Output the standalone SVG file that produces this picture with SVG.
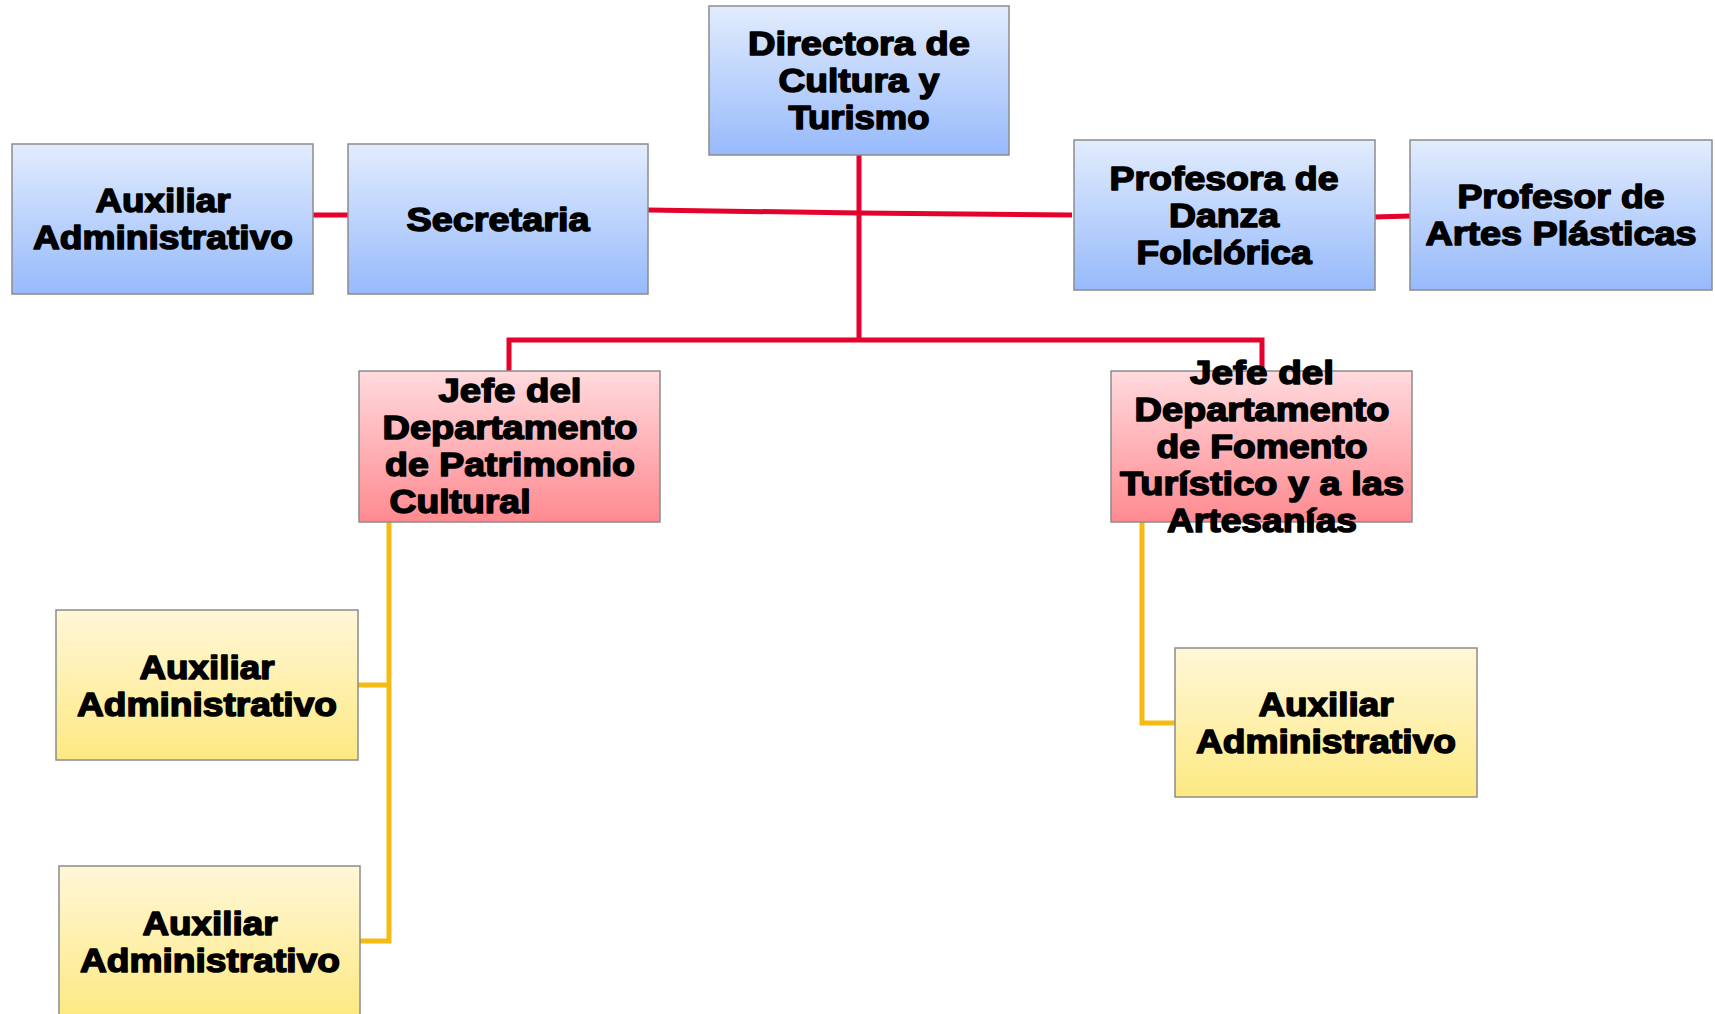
<svg xmlns="http://www.w3.org/2000/svg" width="1715" height="1014" viewBox="0 0 1715 1014">
<defs>
<linearGradient id="gBlue" x1="0" y1="0" x2="0" y2="1">
<stop offset="0" stop-color="#E2ECFD"/><stop offset="1" stop-color="#97BAFB"/>
</linearGradient>
<linearGradient id="gRed" x1="0" y1="0" x2="0" y2="1">
<stop offset="0" stop-color="#FFDADD"/><stop offset="1" stop-color="#FE8A90"/>
</linearGradient>
<linearGradient id="gYel" x1="0" y1="0" x2="0" y2="1">
<stop offset="0" stop-color="#FFF7D8"/><stop offset="1" stop-color="#FDE982"/>
</linearGradient>
<style>
.box{stroke:#8C8C8C;stroke-width:1.5}
.blue{fill:url(#gBlue)}
.red{fill:url(#gRed)}
.yel{fill:url(#gYel)}
text{font-family:"Liberation Sans",Arial,sans-serif;font-weight:bold;font-size:33px;fill:#000;stroke:#000;stroke-width:1.5;stroke-linejoin:round;text-anchor:middle}
.cr{fill:none;stroke:#E4022D;stroke-width:5}
.cy{fill:none;stroke:#F5BB12;stroke-width:5}
</style>
</defs>
<g id="connectors">
<line class="cr" x1="310" y1="215" x2="349" y2="215"/>
<polyline class="cr" points="648,210 859,213 1072,215"/>
<line class="cr" x1="1373" y1="217" x2="1411" y2="216"/>
<line class="cr" x1="859" y1="155" x2="859" y2="341"/>
<polyline class="cr" points="509,371 509,340 1262,340 1262,371"/>
<polyline class="cy" points="389,522 389,941 360,941"/>
<line class="cy" x1="358" y1="685" x2="389" y2="685"/>
<polyline class="cy" points="1142,522 1142,723 1175,723"/>
</g>
<g id="n-directora">
<rect class="box blue" x="709" y="6" width="300" height="149"/>
<text x="859" y="55" textLength="222" lengthAdjust="spacingAndGlyphs">Directora de</text>
<text x="859" y="92" textLength="161" lengthAdjust="spacingAndGlyphs">Cultura y</text>
<text x="859" y="129" textLength="141" lengthAdjust="spacingAndGlyphs">Turismo</text>
</g>
<g id="n-aux-top">
<rect class="box blue" x="12" y="144" width="301" height="150"/>
<text x="163" y="212" textLength="135" lengthAdjust="spacingAndGlyphs">Auxiliar</text>
<text x="163" y="249" textLength="260" lengthAdjust="spacingAndGlyphs">Administrativo</text>
</g>
<g id="n-secretaria">
<rect class="box blue" x="348" y="144" width="300" height="150"/>
<text x="498" y="231" textLength="183" lengthAdjust="spacingAndGlyphs">Secretaria</text>
</g>
<g id="n-danza">
<rect class="box blue" x="1074" y="140" width="301" height="150"/>
<text x="1224" y="190" textLength="229" lengthAdjust="spacingAndGlyphs">Profesora de</text>
<text x="1224" y="227" textLength="110" lengthAdjust="spacingAndGlyphs">Danza</text>
<text x="1224" y="264" textLength="175" lengthAdjust="spacingAndGlyphs">Folclórica</text>
</g>
<g id="n-artes">
<rect class="box blue" x="1410" y="140" width="302" height="150"/>
<text x="1561" y="208" textLength="207" lengthAdjust="spacingAndGlyphs">Profesor de</text>
<text x="1561" y="245" textLength="271" lengthAdjust="spacingAndGlyphs">Artes Plásticas</text>
</g>
<g id="n-patrimonio">
<rect class="box red" x="359" y="371" width="301" height="151"/>
<text x="510" y="402" textLength="143" lengthAdjust="spacingAndGlyphs">Jefe del</text>
<text x="510" y="439" textLength="255" lengthAdjust="spacingAndGlyphs">Departamento</text>
<text x="510" y="476" textLength="250" lengthAdjust="spacingAndGlyphs">de Patrimonio</text>
<text x="460" y="513" textLength="141" lengthAdjust="spacingAndGlyphs">Cultural</text>
</g>
<g id="n-fomento">
<rect class="box red" x="1111" y="371" width="301" height="151"/>
<text x="1262" y="384" textLength="144" lengthAdjust="spacingAndGlyphs">Jefe del</text>
<text x="1262" y="421" textLength="255" lengthAdjust="spacingAndGlyphs">Departamento</text>
<text x="1262" y="458" textLength="211" lengthAdjust="spacingAndGlyphs">de Fomento</text>
<text x="1262" y="495" textLength="284" lengthAdjust="spacingAndGlyphs">Turístico y a las</text>
<text x="1262" y="532" textLength="190" lengthAdjust="spacingAndGlyphs">Artesanías</text>
</g>
<g id="n-aux-1">
<rect class="box yel" x="56" y="610" width="302" height="150"/>
<text x="207" y="679" textLength="135" lengthAdjust="spacingAndGlyphs">Auxiliar</text>
<text x="207" y="716" textLength="260" lengthAdjust="spacingAndGlyphs">Administrativo</text>
</g>
<g id="n-aux-2">
<rect class="box yel" x="59" y="866" width="301" height="151"/>
<text x="210" y="935" textLength="135" lengthAdjust="spacingAndGlyphs">Auxiliar</text>
<text x="210" y="972" textLength="260" lengthAdjust="spacingAndGlyphs">Administrativo</text>
</g>
<g id="n-aux-3">
<rect class="box yel" x="1175" y="648" width="302" height="149"/>
<text x="1326" y="716" textLength="135" lengthAdjust="spacingAndGlyphs">Auxiliar</text>
<text x="1326" y="753" textLength="260" lengthAdjust="spacingAndGlyphs">Administrativo</text>
</g>
</svg>
